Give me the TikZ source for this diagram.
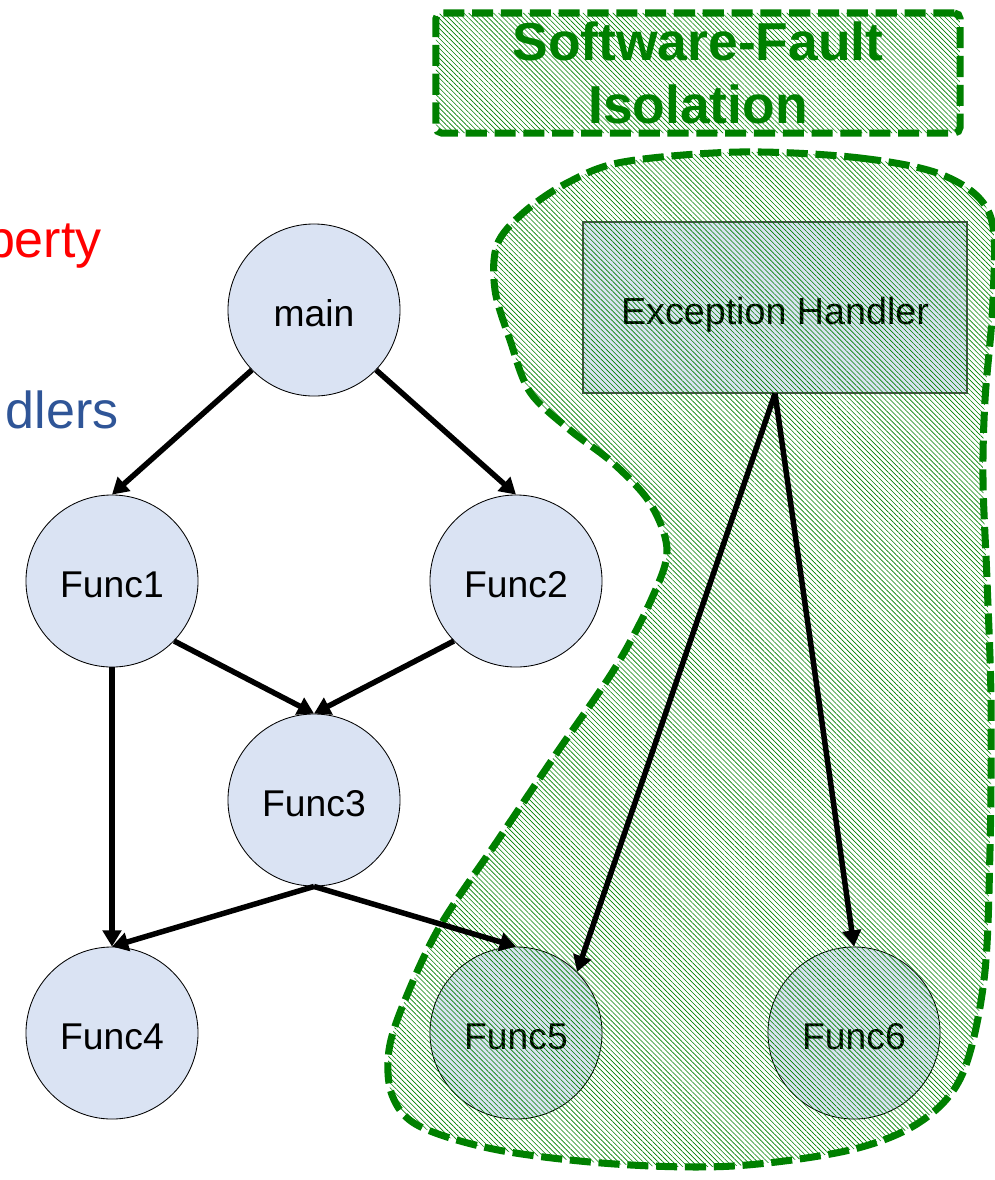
\documentclass[tikz,border=0pt]{standalone}
\usepackage{fontspec}
\setmainfont{Liberation Sans}
\usetikzlibrary{patterns.meta,arrows.meta}
\definecolor{nodefill}{HTML}{DAE3F3}
\definecolor{sfigreen}{HTML}{008000}
\definecolor{hblue}{HTML}{2F5597}
\begin{document}
\begin{tikzpicture}[x=0.025cm,y=-0.025cm,
  func/.style={circle, draw=black, line width=0.6pt, fill=nodefill, minimum size=4.3cm, inner sep=0pt, text height=24pt, text depth=0pt, font=\fontsize{26.5}{30}\selectfont},
  ehbox/.style={draw=black!70, line width=0.8pt, fill=nodefill, minimum width=9.6cm, minimum height=4.275cm, inner sep=0pt, text height=24pt, text depth=0pt, font=\fontsize{26.8}{30}\selectfont},
  hatch/.style={pattern={Lines[angle=-45,distance=2.5pt,line width=0.45pt]}, pattern color=sfigreen},
  sfiborder/.style={draw=sfigreen, line width=5pt, dash pattern=on 15pt off 5.5pt},
  arr/.style={line width=3.9pt, -{Triangle[length=11.5pt,width=13pt]}},
  sidetext/.style={font=\fontsize{37}{40}\selectfont, anchor=base east, inner sep=0pt}
]
\useasboundingbox (0,0) rectangle (995,1180);
\clip (0,0) rectangle (995,1180);

% side texts (cut at the left edge, as in the reference)
\node[sidetext, text=red] (prop) at (102,257) {perty};
\node[sidetext, text=hblue] (hand) at (119,428) {dlers};

% title box
\node[hatch, sfiborder, rounded corners=4pt, minimum width=13.1cm, minimum height=3.0cm,
      inner sep=0pt, align=center, text=sfigreen,
      font=\bfseries\fontsize{38}{45}\selectfont] (title) at (698,73) {Software-Fault\\Isolation};

% nodes
\node[func] (main) at (314,310) {main};
\node[func] (f1) at (112,581) {Func1};
\node[func] (f2) at (516,581) {Func2};
\node[func] (f3) at (314,800) {Func3};
\node[func] (f4) at (112,1033) {Func4};
\node[func] (f5) at (516,1033) {Func5};
\node[func] (f6) at (854,1033) {Func6};
\node[ehbox] (eh) at (775,307.5) {Exception Handler};

% isolation region
\path[hatch, sfiborder] plot[smooth cycle, tension=0.55] coordinates {
 (740,152) (860,158) (945,176) (990,215) (993,300) (985,400) (983,480) (987,580)
 (991,700) (990,850) (984,980) (962,1075) (920,1122) (850,1150) (733,1166)
 (615,1164) (498,1150) (419,1126) (392,1095) (389,1050) (405,1000) (440,926)
 (498,840) (556,754) (615,668) (652,598) (667,550) (650,503) (613,463)
 (570,430) (530,392) (510,340) (495,290) (497,245) (523,213) (567,183) (623,162)
};

% connectors
\draw[arr] (main.224) -- (f1.north);
\draw[arr] (main.-44) -- (f2.north);
\draw[arr] (f1.-44) -- (f3.north);
\draw[arr] (f2.-136) -- (f3.north);
\draw[arr] (f1.south) -- (f4.north);
\draw[arr] (f3.south) -- (f4.north);
\draw[arr] (f3.south) -- (f5.north);
\draw[arr] (eh.south) -- (f5.45);
\draw[arr] (eh.south) -- (f6.north);
\end{tikzpicture}
\end{document}
